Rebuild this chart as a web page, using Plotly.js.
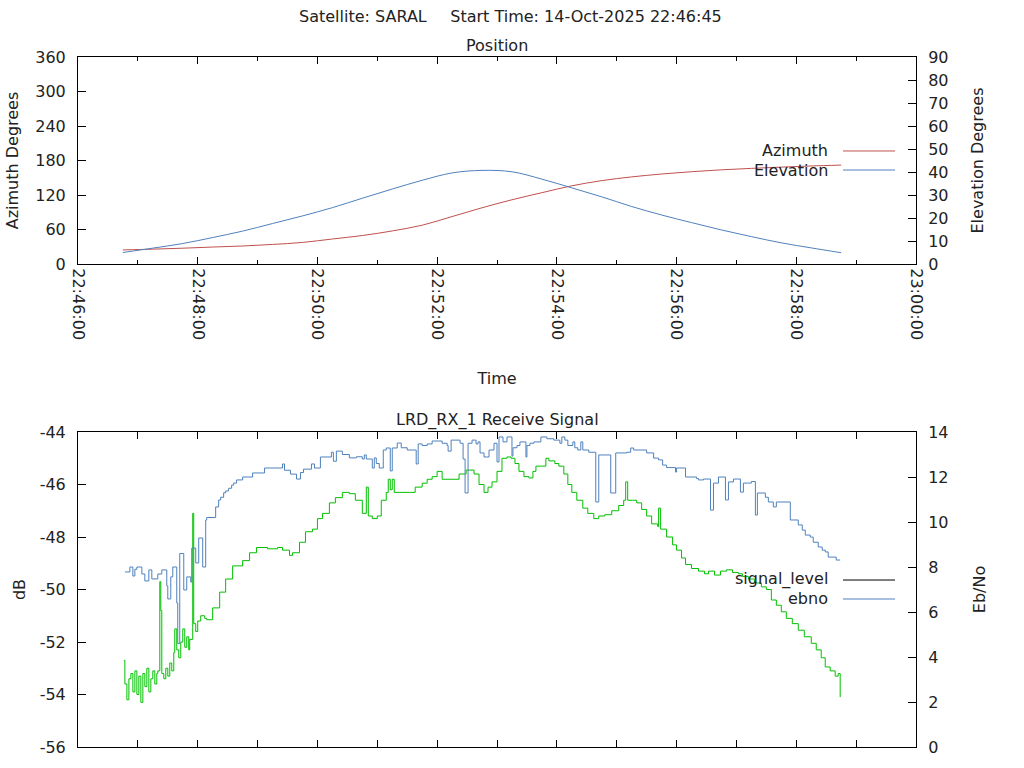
<!DOCTYPE html>
<html>
<head>
<meta charset="utf-8">
<script src="https://cdn.plot.ly/plotly-3.0.1.min.js"></script>
<style>html,body{margin:0;padding:0;background:#fff;}#chart{width:1024px;height:768px;}</style>
</head>
<body>
<div id="chart"></div>
<script>
// Time offsets are seconds after 22:46:00 on 14-Oct-2025
const posT = [45,75,105,135,165,195,225,255,285,315,345,375,405,435,465,495,525,555,585,615,645,675,705,735,765];
const azimuth = [24.5,25.8,27.5,29.5,31.3,34.0,37.5,43.5,49.5,57.5,67.5,82.5,97.8,111.7,124,136,145,151.5,156.5,160.5,163.8,166.3,168.5,170.5,172];
const elevation = [5.0,6.9,8.9,11.5,14.3,17.6,20.9,24.5,28.6,32.6,36.4,39.6,40.7,40.1,36.9,33.1,29.2,25.0,21.3,18.0,14.8,11.9,9.2,7.0,4.9];

const sigT = [46,47,49,51,53,55,57,59,61,63,65,67,69,71,73,75,77,79,80,82,83,84,86,88,90,92,94,96,97,99,101,103,105,107,109,111,112,115,116,118,120,123,127,129,135,142,148,155,165,172,179,190,200,205,212,215,222,228,235,240,245,252,258,265,272,278,285,289,291,295,300,304,309,311,313,315,317,322,332,338,345,350,355,360,365,370,375,382,389,397,402,407,411,415,420,425,430,434,438,442,447,452,456,459,465,469,472,478,482,487,491,495,500,506,511,517,522,528,535,542,547,549,551,556,560,565,570,575,581,582,584,590,596,600,605,609,615,622,628,632,638,644,650,656,662,666,672,678,685,690,695,700,705,710,716,722,728,735,740,745,749,754,759,762,764];
const signalLevel = [-52.7,-53.6,-54.2,-53.4,-53.2,-53.9,-53.1,-54.0,-53.3,-54.3,-53.2,-53.7,-53.0,-53.9,-53.4,-53.1,-53.6,-53.2,-53.1,-49.7,-50.8,-53.2,-53.4,-53.0,-53.3,-52.8,-53.1,-52.4,-51.5,-52.3,-52.6,-52.0,-51.5,-52.2,-51.8,-52.3,-51.9,-47.1,-51.3,-51.6,-51.2,-51.0,-51.1,-51.15,-50.7,-50.1,-49.6,-49.1,-48.9,-48.6,-48.4,-48.45,-48.4,-48.5,-48.7,-48.6,-48.2,-47.8,-47.7,-47.3,-47.1,-46.7,-46.5,-46.3,-46.35,-46.6,-47.1,-46.1,-47.2,-47.3,-47.2,-46.6,-46.3,-45.8,-46.2,-45.8,-46.3,-46.3,-46.3,-46.1,-45.95,-45.8,-45.7,-45.5,-45.8,-45.8,-45.8,-45.6,-45.45,-45.6,-46.0,-46.3,-46.1,-45.9,-45.5,-45.0,-44.95,-45.0,-45.2,-45.5,-45.7,-45.75,-45.5,-45.3,-45.3,-45.0,-45.1,-45.2,-45.3,-45.6,-46.0,-46.3,-46.6,-46.9,-47.1,-47.3,-47.2,-47.15,-47.0,-46.8,-46.6,-45.9,-46.6,-46.6,-46.7,-46.95,-47.2,-47.5,-47.6,-46.9,-47.7,-48.0,-48.3,-48.5,-48.8,-49.05,-49.2,-49.3,-49.4,-49.3,-49.45,-49.3,-49.25,-49.35,-49.4,-49.5,-49.6,-49.75,-49.9,-50.0,-50.4,-50.6,-50.85,-51.1,-51.3,-51.55,-51.8,-52.05,-52.3,-52.6,-52.95,-53.1,-53.3,-53.2,-54.1];

const ebT = [47,52,55,57,59,64,67,71,74,80,84,89,90,93,95,99,100,102,106,109,113,114,118,121,125,128,129,138,141,143,146,148,151,154,156,159,165,175,187,205,207,213,219,223,226,234,237,243,254,256,259,265,272,279,285,287,289,295,297,299,302,306,309,313,315,320,324,330,338,339,341,345,350,355,365,370,371,374,383,386,388,391,395,399,401,403,407,412,417,420,422,426,430,435,436,440,443,449,450,453,457,464,470,477,483,485,488,491,496,498,501,504,506,512,519,522,534,539,550,554,557,570,577,582,586,590,599,600,609,620,622,627,634,637,642,649,652,657,664,667,675,679,681,689,692,697,700,714,722,726,729,734,737,742,746,749,752,760,764];
const ebno = [7.78,8.0,7.6,7.9,8.0,7.69,7.38,7.87,7.47,7.69,7.87,7.16,6.58,7.56,8.0,6.4,4.6,8.6,6.98,7.56,7.33,8.84,8.18,9.29,8.0,10.09,10.2,10.67,10.98,11.1,11.3,11.38,11.5,11.64,11.73,11.87,12.0,12.18,12.4,12.58,12.3,12.13,11.91,12.2,12.35,12.58,12.4,12.89,13.1,12.7,13.15,13.0,12.85,12.9,12.8,12.98,12.8,12.4,12.85,12.6,12.4,13.2,13.29,12.27,13.29,13.51,13.3,13.2,13.2,12.58,13.47,13.4,13.47,13.6,13.5,13.4,13.15,13.64,13.5,12.8,11.29,13.5,13.64,13.47,13.56,13.07,12.89,13.2,13.5,12.67,13.78,13.56,13.78,12.93,13.3,13.4,13.56,12.89,13.4,13.5,13.56,13.78,13.7,13.64,13.5,13.78,13.64,13.4,13.56,13.3,13.2,13.56,13.2,13.1,10.89,12.98,11.29,13.07,13.1,13.29,13.2,13.07,12.84,12.76,12.53,12.42,12.22,12.4,12.0,11.93,11.87,11.91,10.53,11.73,12.0,10.98,11.78,11.91,11.33,11.73,11.8,10.31,11.29,11.1,10.89,10.67,10.89,10.09,9.87,9.64,9.42,9.33,9.1,8.89,8.75,8.67,8.44,8.31,8.31];

const azTicks = [0,60,120,180,240,300,360];
const dbTicks = [-56,-54,-52,-50,-48,-46,-44];

function toDate(off) {
  const total = 22*3600 + 46*60 + off;
  const h = Math.floor(total/3600), m = Math.floor((total%3600)/60), s = total%60;
  const p = n => String(n).padStart(2,'0');
  return '2025-10-14 ' + p(h) + ':' + p(m) + ':' + p(s);
}

const FONT = 'DejaVu Sans, sans-serif';
const TSIZE = 16;
const RED = '#c0504d', BLUE = '#4f81bd', GREEN = '#00c000';

const traces = [
  {x: posT.map(toDate), y: azimuth, name: 'Azimuth', type: 'scatter', mode: 'lines',
   line: {color: RED, width: 1, shape: 'spline', smoothing: 1}, xaxis: 'x', yaxis: 'y'},
  {x: posT.map(toDate), y: elevation, name: 'Elevation', type: 'scatter', mode: 'lines',
   line: {color: BLUE, width: 1, shape: 'spline', smoothing: 1}, xaxis: 'x', yaxis: 'y2'},
  {x: sigT.map(toDate), y: signalLevel, name: 'signal_level', type: 'scatter', mode: 'lines',
   line: {color: GREEN, width: 1, shape: 'hv'}, xaxis: 'x2', yaxis: 'y3'},
  {x: ebT.map(toDate), y: ebno, name: 'ebno', type: 'scatter', mode: 'lines',
   line: {color: BLUE, width: 1, shape: 'hv'}, xaxis: 'x2', yaxis: 'y4'}
];

const xRange = [toDate(0), toDate(840)];
const axBase = {showline: true, linecolor: '#000', linewidth: 1, showgrid: false, zeroline: false,
  ticks: 'inside', tickcolor: '#000', tickwidth: 1, ticklen: 7,
  tickfont: {family: FONT, size: 16, color: '#222'}};

const layout = {
  width: 1024, height: 768,
  margin: {l: 78, r: 108, t: 57, b: 21},
  paper_bgcolor: '#fff', plot_bgcolor: '#fff',
  showlegend: false,
  font: {family: FONT, size: 16, color: '#222'},
  xaxis: Object.assign({}, axBase, {
    domain: [0, 1], anchor: 'y', type: 'date', range: xRange, mirror: 'ticks',
    dtick: 120000, tick0: toDate(0), tickformat: '%H:%M:%S', tickangle: 90,
    minor: {dtick: 60000, ticks: 'inside', ticklen: 4, tickcolor: '#000'},
    title: {text: 'Time', font: {family: FONT, size: TSIZE, color: '#222'}, standoff: 33}
  }),
  yaxis: Object.assign({}, axBase, {
    domain: [0.7, 1], anchor: 'x', range: [0, 360], tickvals: azTicks, ticklen: 8, ticklabelstandoff: 8,
    title: {text: 'Azimuth Degrees', font: {family: FONT, size: 16, color: '#222'}, standoff: 12}
  }),
  yaxis2: Object.assign({}, axBase, {
    overlaying: 'y', side: 'right', anchor: 'x', range: [0, 90], dtick: 10, ticklen: 8, ticklabelstandoff: 8,
    title: {text: 'Elevation Degrees', font: {family: FONT, size: 16, color: '#222'}, standoff: 24}
  }),
  xaxis2: Object.assign({}, axBase, {
    domain: [0, 1], anchor: 'y3', type: 'date', range: xRange, mirror: 'ticks',
    dtick: 60000, tick0: toDate(0), showticklabels: false
  }),
  yaxis3: Object.assign({}, axBase, {
    domain: [0, 0.4565], anchor: 'x2', range: [-56, -44], tickvals: dbTicks, ticktext: dbTicks.map(String),
    ticklen: 8, ticklabelstandoff: 8,
    title: {text: 'dB', font: {family: FONT, size: 16, color: '#222'}, standoff: 10}
  }),
  yaxis4: Object.assign({}, axBase, {
    overlaying: 'y3', side: 'right', anchor: 'x2', range: [0, 14], dtick: 2, ticklen: 8, ticklabelstandoff: 8,
    title: {text: 'Eb/No', font: {family: FONT, size: 16, color: '#222'}, standoff: 26}
  }),
  annotations: [
    {text: 'Satellite: SARAL\u00a0\u00a0\u00a0\u00a0\u2009Start Time: 14-Oct-2025 22:46:45', xref: 'paper', yref: 'paper',
     x: 0.5167, y: 1.058, xanchor: 'center', yanchor: 'middle', showarrow: false, font: {family: FONT, size: TSIZE, color: '#222'}},
    {text: 'Position', xref: 'paper', yref: 'paper', x: 0.5, y: 1.016, xanchor: 'center', yanchor: 'middle',
     showarrow: false, font: {family: FONT, size: TSIZE, color: '#222'}},
    {text: 'LRD_RX_1 Receive Signal', xref: 'paper', yref: 'paper', x: 0.5, y: 0.4739, xanchor: 'center', yanchor: 'middle',
     showarrow: false, font: {family: FONT, size: TSIZE, color: '#222'}},
    {text: 'Azimuth', xref: 'paper', yref: 'paper', x: 0.8974, y: 0.8652, xanchor: 'right', yanchor: 'middle',
     showarrow: false, font: {family: FONT, size: 16, color: '#222'}},
    {text: 'Elevation', xref: 'paper', yref: 'paper', x: 0.8974, y: 0.8362, xanchor: 'right', yanchor: 'middle',
     showarrow: false, font: {family: FONT, size: 16, color: '#222'}},
    {text: 'signal_level', xref: 'paper', yref: 'paper', x: 0.8974, y: 0.2435, xanchor: 'right', yanchor: 'middle',
     showarrow: false, font: {family: FONT, size: 16, color: '#222'}},
    {text: 'ebno', xref: 'paper', yref: 'paper', x: 0.8974, y: 0.2159, xanchor: 'right', yanchor: 'middle',
     showarrow: false, font: {family: FONT, size: 16, color: '#222'}}
  ],
  shapes: [
    {type: 'line', xref: 'paper', yref: 'paper', x0: 0.9129, x1: 0.975, y0: 0.8638, y1: 0.8638, line: {color: RED, width: 1}},
    {type: 'line', xref: 'paper', yref: 'paper', x0: 0.9129, x1: 0.975, y0: 0.8362, y1: 0.8362, line: {color: BLUE, width: 1}},
    {type: 'line', xref: 'paper', yref: 'paper', x0: 0.9129, x1: 0.975, y0: 0.2420, y1: 0.2420, line: {color: '#000', width: 1}},
    {type: 'line', xref: 'paper', yref: 'paper', x0: 0.9129, x1: 0.975, y0: 0.2145, y1: 0.2145, line: {color: BLUE, width: 1}}
  ]
};

Plotly.newPlot('chart', traces, layout, {staticPlot: true, displayModeBar: false});
</script>
</body>
</html>
